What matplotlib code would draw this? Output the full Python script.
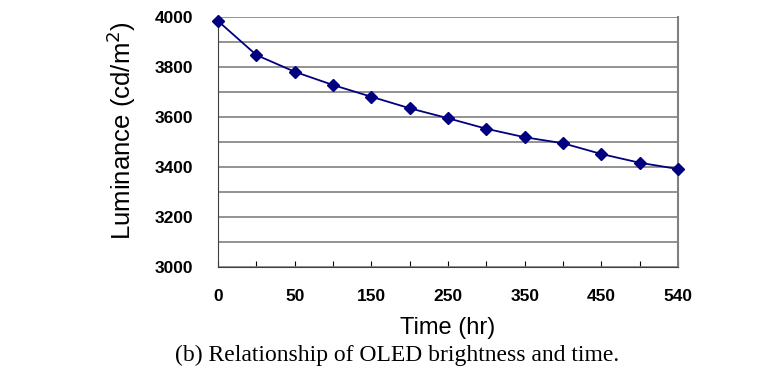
import matplotlib
matplotlib.use('Agg')
import matplotlib.pyplot as plt
import numpy as np

# time categories (hr) and measured luminance (cd/m2)
hours = ['0', '25', '50', '100', '150', '200', '250', '300', '350', '400', '450', '500', '540']
luminance = [3984, 3848, 3781, 3728, 3681, 3635, 3595, 3553, 3519, 3495, 3452, 3417, 3392]
shown_labels = ['0', '50', '150', '250', '350', '450', '540']

fig = plt.figure(figsize=(7.82, 3.81), dpi=100)
ax = fig.add_axes([218 / 782, 1 - 267 / 381, 460 / 782, 250 / 381])

x = np.arange(len(hours))
ax.plot(x, luminance, color='#000080', marker='D', markersize=6.5, linewidth=1.3,
        clip_on=False, zorder=5)

ax.set_xlim(0, len(hours) - 1)
ax.set_ylim(3000, 4000)
ax.set_yticks(np.arange(3000, 4001, 200))
ax.set_yticks(np.arange(3000, 4001, 100), minor=True)
ax.yaxis.grid(True, which='both', color='#808080', linewidth=1.2)
ax.set_axisbelow(True)

ax.set_xticks(x)
ax.set_xticklabels([h if h in shown_labels else '' for h in hours])
ax.tick_params(axis='x', direction='in', length=4, pad=16, colors='black')
ax.tick_params(axis='y', which='both', length=0, pad=18)
for lab in ax.get_xticklabels() + ax.get_yticklabels():
    lab.set_fontweight('bold')
    lab.set_fontsize(12.5)
    lab.set_family('Liberation Sans')

ax.spines['top'].set_visible(False)
ax.spines['right'].set_color('#808080')
ax.spines['right'].set_linewidth(1.5)
ax.spines['left'].set_color('#404040')
ax.spines['bottom'].set_color('#404040')

ax.set_ylabel('Luminance (cd/m$^2$)', fontsize=18.5, family='Liberation Sans')
ax.yaxis.set_label_coords(-0.175, 0.545)
ax.set_xlabel('Time (hr)', fontsize=17, family='Liberation Sans', labelpad=9)

fig.text(397 / 782, 1 - 355 / 381, '(b) Relationship of OLED brightness and time.',
         ha='center', va='center', fontsize=17, family='Liberation Serif')

fig.savefig('out.png', dpi=100)
